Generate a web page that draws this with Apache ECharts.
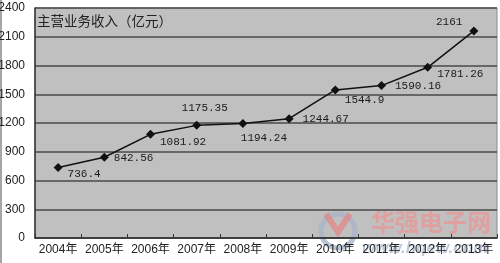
<!DOCTYPE html>
<html>
<head>
<meta charset="utf-8">
<script src="https://cdn.jsdelivr.net/npm/echarts@6/dist/echarts.min.js"></script>
<style>html,body{margin:0;padding:0;background:#fff;}#c{width:500px;height:263px;}</style>
</head>
<body>
<div id="c"></div>
<script>
var categories = ['2004年','2005年','2006年','2007年','2008年','2009年','2010年','2011年','2012年','2013年'];
var revenue = [736.4, 842.56, 1081.92, 1175.35, 1194.24, 1244.67, 1544.9, 1590.16, 1781.26, 2161];
var labelTexts = ['736.4','842.56','1081.92','1175.35','1194.24','1244.67','1544.9','1590.16','1781.26','2161'];
var chartTitle = '主营业务收入（亿元）';

var labelPlacement = [
  {position:'right', offset:[0,7]},
  {position:'right', offset:[0,1]},
  {position:'right', offset:[0,8]},
  {position:'top', offset:[8,-2]},
  {position:'bottom', offset:[21,0]},
  {position:'right', offset:[4,0]},
  {position:'right', offset:[0,10]},
  {position:'right', offset:[4,0]},
  {position:'right', offset:[0,7]},
  {position:'left', offset:[-2,-9]}
];

var data = revenue.map(function(v,i){
  return {value:v, label:Object.assign({show:true, formatter:labelTexts[i]}, labelPlacement[i])};
});

var chart = echarts.init(document.getElementById('c'));
chart.setOption({
  animation:false,
  grid:{left:35,right:3,top:8,bottom:25,containLabel:false,outerBoundsMode:'none',show:true,backgroundColor:'#c0c0c0',borderColor:'#8a8a8a',borderWidth:1},
  xAxis:{
    type:'category', data:categories, boundaryGap:true,
    axisLine:{lineStyle:{color:'#333',width:1.5}},
    axisTick:{show:true,inside:true,length:4,lineStyle:{color:'#333'}},
    axisLabel:{color:'#222',fontSize:12,margin:6,fontFamily:'Liberation Sans, Noto Sans CJK SC',interval:0}
  },
  yAxis:{
    type:'value', min:0, max:2400, interval:300,
    axisLine:{show:true,lineStyle:{color:'#333',width:1.5}},
    axisTick:{show:false},
    axisLabel:{color:'#222',fontSize:12,margin:10,fontFamily:'Liberation Sans',formatter:function(v){return String(v);}},
    splitLine:{lineStyle:{color:'#4a4a4a',width:1.5}}
  },
  graphic:[
    {type:'line',shape:{x1:1,y1:0,x2:1,y2:263},style:{stroke:'#888',lineWidth:1.5}},
    {type:'text',left:37,top:14,style:{text:chartTitle,fill:'#222',font:'13.5px "Noto Sans CJK SC"'}},
    {type:'circle',shape:{cx:338,cy:231,r:17},style:{fill:'none',stroke:'#a8b4c8',lineWidth:5,opacity:0.8}},
    {type:'polyline',shape:{points:[[326,214],[338,232],[350,214]]},style:{stroke:'#e08a8a',lineWidth:6,fill:'none',opacity:0.8}},
    {type:'text',left:371,top:210,style:{text:'华强电子网',fill:'#e59a9a',opacity:0.85,font:'bold 24px "Noto Sans CJK SC"'}},
    {type:'text',left:362,top:240,style:{text:'www.hqew.com',fill:'#b4c0d2',opacity:0.85,font:'italic bold 17px "Liberation Sans"'}}
  ],
  series:[{
    type:'line', data:data,
    symbol:'diamond', symbolSize:9,
    lineStyle:{color:'#111',width:1.5},
    itemStyle:{color:'#111'},
    label:{color:'#1a1a1a',fontSize:11,fontFamily:'Liberation Mono'}
  }]
});
</script>
</body>
</html>
